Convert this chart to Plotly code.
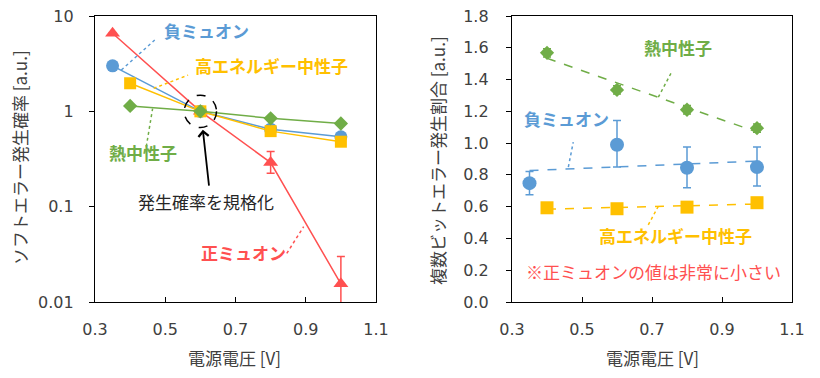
import numpy as np
import plotly.graph_objects as go

# ---------------- data ----------------
# Left: soft error probability (normalized at 0.6 V)
pos_mu_x = [0.35, 0.6, 0.8, 1.0]
pos_mu_y = [6.6, 1.0, 0.29, 0.0155]
pos_mu_err_plus = [0, 0, 0.088, 0.0145]
pos_mu_err_minus = [0, 0, 0.066, 0.0150]

neg_mu_x = [0.35, 0.6, 0.8, 1.0]
neg_mu_y = [3.0, 1.0, 0.65, 0.54]

hen_x = [0.4, 0.6, 0.8, 1.0]
hen_y = [1.97, 1.0, 0.62, 0.48]

thn_x = [0.4, 0.6, 0.8, 1.0]
thn_y = [1.14, 1.0, 0.845, 0.745]

# Right: multi-bit error ratio
r_neg_x = [0.35, 0.6, 0.8, 1.0]
r_neg_y = [0.748, 0.99, 0.845, 0.849]
r_neg_err_plus = [0.074, 0.153, 0.13, 0.126]
r_neg_err_minus = [0.073, 0.141, 0.126, 0.119]

r_hen_x = [0.4, 0.6, 0.8, 1.0]
r_hen_y = [0.593, 0.587, 0.597, 0.625]

r_thn_x = [0.4, 0.6, 0.8, 1.0]
r_thn_y = [1.568, 1.335, 1.21, 1.094]
r_thn_err = [0.026, 0.026, 0.026, 0.026]

x_ticks = [0.3, 0.5, 0.7, 0.9, 1.1]
left_y_ticks = [0.01, 0.1, 1, 10]
left_y_ticktext = ["0.01", "0.1", "1", "10"]

# ---------------- style ----------------
RED = "#FF5050"
BLUE = "#5B9BD5"
ORANGE = "#FFC000"
GREEN = "#70AD47"
TXT = "#404040"
FONT = "DejaVu Sans, Noto Sans CJK JP"
JFONT = "Noto Sans CJK JP, DejaVu Sans"

fig = go.Figure()

# left panel
fig.add_trace(go.Scatter(x=neg_mu_x, y=neg_mu_y, mode="lines+markers",
                         line=dict(color=BLUE, width=1.5),
                         marker=dict(symbol="circle", size=13, color=BLUE),
                         xaxis="x", yaxis="y", showlegend=False))
fig.add_trace(go.Scatter(x=pos_mu_x, y=pos_mu_y, mode="lines+markers",
                         line=dict(color=RED, width=1.5),
                         marker=dict(symbol="triangle-up", size=13, color=RED),
                         error_y=dict(type="data", array=pos_mu_err_plus,
                                      arrayminus=pos_mu_err_minus,
                                      color=RED, thickness=1.5, width=4),
                         xaxis="x", yaxis="y", showlegend=False))
fig.add_trace(go.Scatter(x=hen_x, y=hen_y, mode="lines+markers",
                         line=dict(color=ORANGE, width=1.5),
                         marker=dict(symbol="square", size=12, color=ORANGE),
                         xaxis="x", yaxis="y", showlegend=False))
fig.add_trace(go.Scatter(x=thn_x, y=thn_y, mode="lines+markers",
                         line=dict(color=GREEN, width=1.5),
                         marker=dict(symbol="diamond", size=11, color=GREEN),
                         xaxis="x", yaxis="y", showlegend=False))

# right panel: trend lines (least squares, like a spreadsheet trendline)
def trend(xs, ys):
    k, b = np.polyfit(xs, ys, 1)
    xx = [min(xs), max(xs)]
    return xx, [k * v + b for v in xx]

for xs, ys, c in [(r_thn_x, r_thn_y, GREEN), (r_neg_x, r_neg_y, BLUE), (r_hen_x, r_hen_y, ORANGE)]:
    tx, ty = trend(xs, ys)
    fig.add_trace(go.Scatter(x=tx, y=ty, mode="lines",
                             line=dict(color=c, width=1.5, dash="dash"),
                             xaxis="x2", yaxis="y2", showlegend=False, hoverinfo="skip"))

fig.add_trace(go.Scatter(x=r_thn_x, y=r_thn_y, mode="markers",
                         marker=dict(symbol="diamond", size=11, color=GREEN),
                         error_y=dict(type="data", array=r_thn_err, color=GREEN, thickness=1.5, width=4),
                         xaxis="x2", yaxis="y2", showlegend=False))
fig.add_trace(go.Scatter(x=r_neg_x, y=r_neg_y, mode="markers",
                         marker=dict(symbol="circle", size=14, color=BLUE),
                         error_y=dict(type="data", array=r_neg_err_plus, arrayminus=r_neg_err_minus,
                                      color=BLUE, thickness=1.5, width=4),
                         xaxis="x2", yaxis="y2", showlegend=False))
fig.add_trace(go.Scatter(x=r_hen_x, y=r_hen_y, mode="markers",
                         marker=dict(symbol="square", size=13, color=ORANGE),
                         xaxis="x2", yaxis="y2", showlegend=False))

axis_common = dict(showgrid=False, zeroline=False, showline=True, linecolor="black",
                   linewidth=1.3, mirror=True, tickcolor="black", ticklen=5, automargin=False,
                   tickfont=dict(family=FONT, size=16, color=TXT))

fig.update_layout(
    width=820, height=378,
    margin=dict(l=0, r=0, t=0, b=0),
    paper_bgcolor="white", plot_bgcolor="white",
    font=dict(family=FONT),
    xaxis=dict(domain=[95/820, 376/820], range=[0.3, 1.1], tickvals=x_ticks,
               tickformat=".1f", ticks="inside", ticklabelstandoff=13, anchor="y", **axis_common),
    yaxis=dict(domain=[1-302/378, 1-16/378], type="log", range=[-2, 1],
               tickvals=left_y_ticks, ticktext=left_y_ticktext, ticks="outside",
               ticklabelstandoff=12, anchor="x", **axis_common),
    xaxis2=dict(domain=[512/820, 792/820], range=[0.3, 1.1], tickvals=x_ticks,
                tickformat=".1f", ticks="inside", ticklabelstandoff=13, anchor="y2", **axis_common),
    yaxis2=dict(domain=[1-302/378, 1-16/378], range=[0, 1.8], dtick=0.2, tickformat=".1f",
                ticks="outside", ticklabelstandoff=14, anchor="x2", **axis_common),
)

L = np.log10
ann = []
title_font = dict(family=JFONT, size=17, color=TXT)
# axis titles
ann.append(dict(text="ソフトエラー発生確率 [a.u.]", x=20/820, y=1-158/378, xref="paper", yref="paper",
                xanchor="center", yanchor="middle", textangle=-90, showarrow=False, font=title_font))
ann.append(dict(text="複数ビットエラー発生割合 [a.u.]", x=437/820, y=1-161/378, xref="paper", yref="paper",
                xanchor="center", yanchor="middle", textangle=-90, showarrow=False, font=title_font))
ann.append(dict(text="電源電圧 [V]", x=235/820, y=1-357/378, xref="paper", yref="paper",
                xanchor="center", yanchor="middle", showarrow=False, font=title_font))
ann.append(dict(text="電源電圧 [V]", x=652/820, y=1-357/378, xref="paper", yref="paper",
                xanchor="center", yanchor="middle", showarrow=False, font=title_font))

# left labels
ann.append(dict(text="<b>負ミュオン</b>", x=0.618, y=L(7.13), xref="x", yref="y", showarrow=False,
                font=dict(family=JFONT, size=17, color=BLUE)))
ann.append(dict(text="<b>高エネルギー中性子</b>", x=0.803, y=L(3.06), xref="x", yref="y", showarrow=False,
                font=dict(family=JFONT, size=17, color=ORANGE)))
ann.append(dict(text="<b>熱中性子</b>", x=0.437, y=L(0.368), xref="x", yref="y", showarrow=False,
                font=dict(family=JFONT, size=17, color=GREEN)))
ann.append(dict(text="<b>正ミュオン</b>", x=0.724, y=L(0.0332), xref="x", yref="y", showarrow=False,
                font=dict(family=JFONT, size=17, color=RED)))
ann.append(dict(text="発生確率を規格化", x=0.615, y=L(0.113), xref="x", yref="y", showarrow=False,
                font=dict(family=JFONT, size=17, color="#262626")))
ann.append(dict(text="", x=0.607, y=L(0.64), ax=0.625, ay=L(0.16), xref="x", yref="y",
                axref="x", ayref="y", showarrow=True, arrowhead=4, arrowsize=1.1,
                arrowwidth=1.8, arrowcolor="black"))

# right labels
ann.append(dict(text="<b>熱中性子</b>", x=0.775, y=1.604, xref="x2", yref="y2", showarrow=False,
                font=dict(family=JFONT, size=17, color=GREEN)))
ann.append(dict(text="<b>負ミュオン</b>", x=0.456, y=1.153, xref="x2", yref="y2", showarrow=False,
                font=dict(family=JFONT, size=17, color=BLUE)))
ann.append(dict(text="<b>高エネルギー中性子</b>", x=0.767, y=0.419, xref="x2", yref="y2", showarrow=False,
                font=dict(family=JFONT, size=17, color=ORANGE)))
ann.append(dict(text="※正ミュオンの値は非常に小さい", x=0.705, y=0.195, xref="x2", yref="y2", showarrow=False,
                font=dict(family=JFONT, size=17, color=RED)))
fig.update_layout(annotations=ann)

shapes = []
def leader(x0, y0, x1, y1, c, xr, yr):
    shapes.append(dict(type="line", x0=x0, y0=y0, x1=x1, y1=y1, xref=xr, yref=yr,
                       line=dict(color=c, width=1.5, dash="dot")))

# shapes on the log axis take plain data values
leader(0.375, 2.71, 0.470, 5.6, BLUE, "x", "y")
leader(0.467, 1.74, 0.565, 2.40, ORANGE, "x", "y")
leader(0.446, 0.426, 0.464, 1.07, GREEN, "x", "y")
leader(0.846, 10 ** -1.49, 0.894, 10 ** -1.21, RED, "x", "y")
leader(0.718, 1.289, 0.756, 1.447, GREEN, "x2", "y2")
leader(0.461, 0.849, 0.475, 1.006, BLUE, "x2", "y2")
leader(0.718, 0.602, 0.686, 0.472, ORANGE, "x2", "y2")

# dashed circle around the normalization point (radius ~16 px)
shapes.append(dict(type="circle", xref="x", yref="y",
                   x0=0.6 - 0.046, x1=0.6 + 0.046, y0=10 ** -0.17, y1=10 ** 0.17,
                   line=dict(color="black", width=1.5, dash="dash")))
fig.update_layout(shapes=shapes)

fig.write_html("out.html", config={"displayModeBar": False},
               post_script="document.body.style.margin='0';")
